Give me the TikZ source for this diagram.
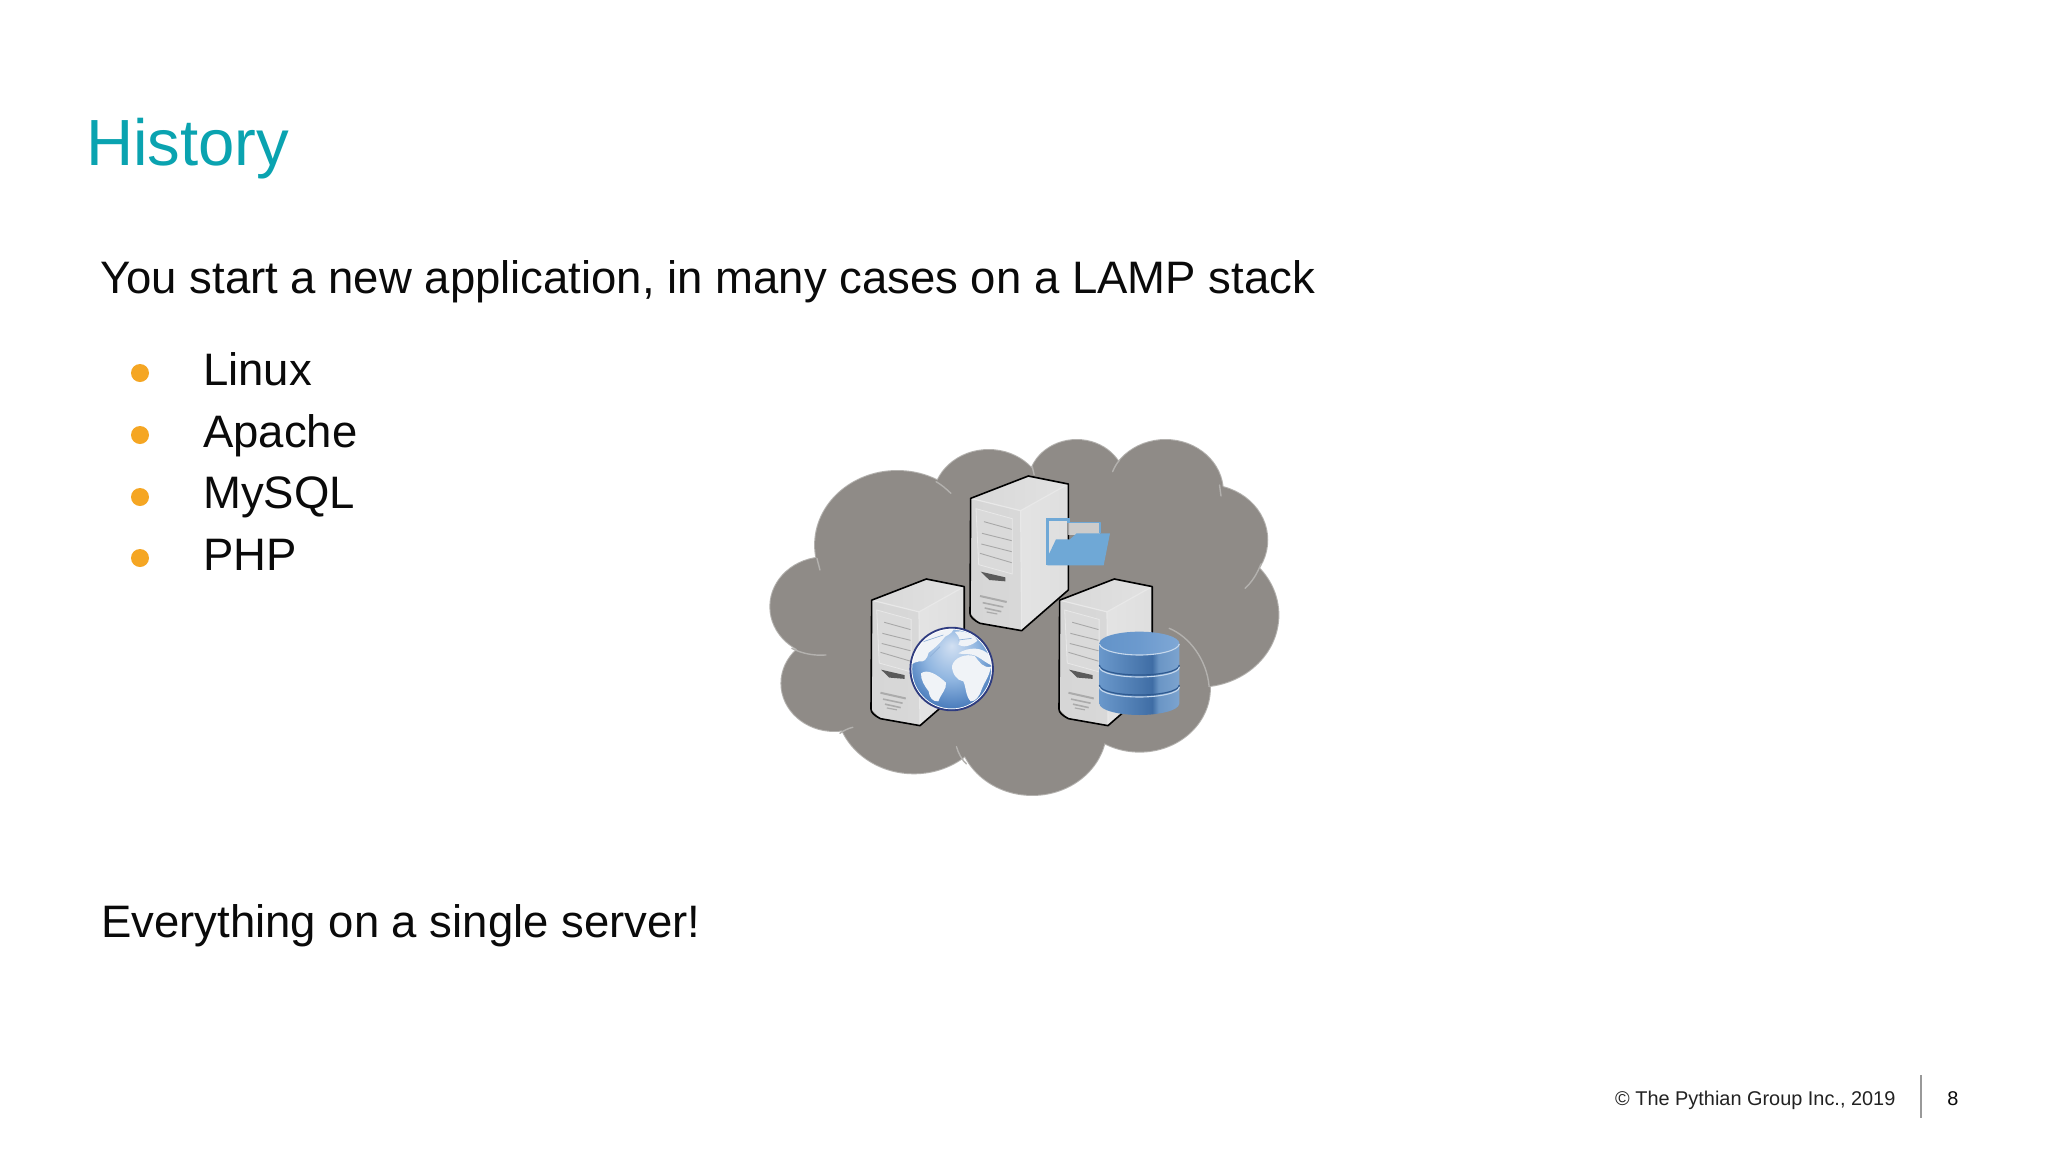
\documentclass[tikz,border=0pt]{standalone}
\usepackage{fontspec}
\setmainfont{Liberation Sans}
\definecolor{teal1}{HTML}{0AA3B0}
\definecolor{ink}{HTML}{0A0A0A}
\definecolor{footc}{HTML}{222222}
\definecolor{bull}{HTML}{F5A623}
\definecolor{cloudf}{HTML}{8F8B87}
\definecolor{cloudl}{HTML}{B3B1AE}
\definecolor{fblue}{HTML}{6FA8D6}
\definecolor{seam}{HTML}{C6D8EC}
\definecolor{dba}{HTML}{5F90C6}
\definecolor{dbb}{HTML}{6A98CB}
\definecolor{dbc}{HTML}{4A78AE}
\definecolor{dbd}{HTML}{3F6DA5}
\definecolor{dbe}{HTML}{6A95C5}
\definecolor{dbf}{HTML}{8AAFD8}
\definecolor{dbg}{HTML}{7AA3D0}
\definecolor{dbh}{HTML}{5A8DC4}
\definecolor{dbi}{HTML}{6C9ACE}
\definecolor{dbj}{HTML}{93B6DD}
\definecolor{dbk}{HTML}{2F5A90}
\definecolor{fta}{HTML}{D4D4D4}
\definecolor{ftb}{HTML}{E6E6E6}
\definecolor{ffa}{HTML}{D5D5D5}
\definecolor{ffb}{HTML}{D9D9D9}
\definecolor{rfa}{HTML}{E6E6E6}
\definecolor{rfb}{HTML}{DCDCDC}
\definecolor{pnl}{HTML}{DADADA}
\definecolor{pbd}{HTML}{E8E8E8}
\definecolor{pln}{HTML}{A8A8A8}
\definecolor{slot}{HTML}{5A5A5A}
\definecolor{vent}{HTML}{ABABAB}
\definecolor{gla}{HTML}{D2E0F2}
\definecolor{glb}{HTML}{8FB5E0}
\definecolor{glc}{HTML}{2F66AE}
\definecolor{gld}{HTML}{2F3C80}
\definecolor{landc}{HTML}{F0F3F7}
\definecolor{gline}{HTML}{8FB0D8}
\pgfdeclarehorizontalshading{dbside}{100bp}{color(0bp)=(dba);color(25bp)=(dbb);color(50bp)=(dbc);color(58bp)=(dbd);color(62bp)=(dbe);color(85bp)=(dbf);color(100bp)=(dbg)}
\pgfdeclarehorizontalshading{dbtop}{100bp}{color(0bp)=(dbh);color(50bp)=(dbi);color(100bp)=(dbj)}
\pgfdeclarehorizontalshading{ftop}{100bp}{color(0bp)=(fta);color(100bp)=(ftb)}
\pgfdeclarehorizontalshading{fface}{100bp}{color(0bp)=(ffa);color(100bp)=(ffb)}
\pgfdeclarehorizontalshading{rface}{100bp}{color(0bp)=(rfa);color(100bp)=(rfb)}
\pgfdeclareradialshading{glbs}{\pgfpoint{0bp}{14bp}}{color(0bp)=(gla);color(16bp)=(glb);color(34bp)=(glc);color(50bp)=(glc)}
\tikzset{
  title/.style={inner sep=0pt,anchor=base west,text=teal1,font=\fontsize{65.3}{70}\selectfont},
  body/.style={inner sep=0pt,anchor=base west,text=ink,font=\fontsize{45.5}{50}\selectfont},
  foot/.style={inner sep=0pt,anchor=base west,text=footc,font=\fontsize{19.9}{24}\selectfont},
  bulletdot/.style={fill=bull,draw=none},
  lobe/.style={draw=cloudl,line width=2pt,fill=cloudf},
  lobefill/.style={fill=cloudf,draw=none},
  crease/.style={draw=cloudl,line width=1.4pt,line cap=round},
  edge/.style={draw=black,line width=1.6pt,line join=round},
  pline/.style={draw=pln,line width=0.9pt},
  land/.style={fill=landc,draw=none},
  dbdark/.style={draw=dbk,line width=1.2pt},
  dbseam/.style={draw=seam,line width=1.1pt},
}
\newcommand{\srv}[3]{%
\begin{scope}[shift={(#1,#2)},scale=#3,shift={(-30,-18)}]
  \path[shading=ftop] (32,85) -- (205,18) -- (325,42) -- (182,122) -- cycle;
  \path[shading=fface] (32,85) -- (182,122) -- (185,482) -- (60,460) -- (30,430) -- cycle;
  \path[shading=rface] (182,122) -- (325,42) -- (325,360) -- (185,482) -- cycle;
  \draw[draw=pbd,line width=1.2pt] (32,85) -- (182,122) -- (325,42) (182,122) -- (185,482);
  \path[fill=pnl,draw=pbd,line width=.8pt] (48,116) -- (157,146) -- (157,312) -- (56,284) -- cycle;
  \draw[pline] (72,155) -- (155,178) (66,190) -- (155,212) (64,222) -- (155,245) (60,250) -- (155,278);
  \path[fill=slot] (62,305) -- (136,322) -- (136,334) -- (88,330) -- cycle;
  \draw[draw=vent,line width=2pt] (60,378) -- (140,396);
  \draw[draw=vent,line width=1.6pt] (68,398) -- (130,411) (74,414) -- (124,425);
  \draw[draw=vent,line width=1.2pt] (80,426) -- (112,432);
  \draw[edge] (32,85) -- (205,18) -- (325,42) -- (325,360) -- (185,482) -- (60,460) .. controls (40,450) and (30,440) .. (30,430) -- cycle;
\end{scope}}
\begin{document}
\begin{tikzpicture}[x=1pt,y=-1pt]
\useasboundingbox (0,0) rectangle (2048,1152);
\fill[white] (0,0) rectangle (2048,1152);

\node[title] (ttl) at (86,165) {History};
\node[body] (lead) at (100,293) {You start a new application, in many cases on a LAMP stack};
\fill[bulletdot] (140,373) circle (9) (140,435) circle (9) (140,497) circle (9) (140,558) circle (9);
\node[body] (li1) at (203,385) {Linux};
\node[body] (li2) at (203,447) {Apache};
\node[body] (li3) at (203,508) {MySQL};
\node[body] (li4) at (203,570) {PHP};
\node[body] (tail) at (101,937) {Everything on a single server!};

\node[foot] (copy) at (1615,1105) {© The Pythian Group Inc., 2019};
\draw[draw=white!60!black,line width=2.5pt] (1921,1075) -- (1921,1118);
\node[foot,anchor=base,text=ink] (pg) at (1953,1105) {8};

% cloud
\begin{scope}[shift={(740,420)},xscale=0.37,yscale=0.3333]
  \foreach \cx/\cy/\r in {425/375/222,672/240/150,910/190/130,1150/215/155,1260/360/165,1240/585/215,1080/805/190,790/925/200,470/850/210,255/790/143,230/560/148}
    \draw[lobe] (\cx,\cy) circle (\r);
  \foreach \cx/\cy/\r in {425/375/222,672/240/150,910/190/130,1150/215/155,1260/360/165,1240/585/215,1080/805/190,790/925/200,470/850/210,255/790/143,230/560/148}
    \fill[lobefill] (\cx,\cy) circle (\r);
  \fill[lobefill] (300,300) rectangle (1200,800);
  \fill[lobefill] (600,150) rectangle (1250,300);
  \draw[crease] (530,185) .. controls (545,195) and (558,207) .. (570,220);
  \draw[crease] (790,140) -- (795,165);
  \draw[crease] (1007,155) .. controls (1012,142) and (1018,130) .. (1026,120);
  \draw[crease] (1296,195) -- (1300,228);
  \draw[crease] (1408,432) .. controls (1398,460) and (1385,485) .. (1365,505);
  \draw[crease] (1160,625) .. controls (1215,650) and (1262,720) .. (1268,800);
  \draw[crease] (585,980) .. controls (590,1000) and (600,1020) .. (612,1032);
  \draw[crease] (270,940) .. controls (280,932) and (292,925) .. (305,922);
  \draw[crease] (140,685) .. controls (165,700) and (200,708) .. (232,705);
  \draw[crease] (208,415) -- (216,450);
\end{scope}

\srv{970}{476}{0.3333}
% folder
\begin{scope}[shift={(960,470)},scale=0.3333]
  \path[fill=pbd,opacity=.7] (325,158) -- (420,158) -- (420,195) -- (325,195) -- cycle;
  \draw[draw=fblue,line width=1.6pt,line join=round] (325,158) -- (420,158) -- (420,190);
  \draw[draw=fblue,line width=2.6pt] (262,285) -- (262,148) -- (325,148) -- (325,160);
  \fill[fblue] (262,286) -- (431,286) -- (450,190) -- (350,190) -- (330,208) -- (288,208) -- (268,250) -- (262,250) -- cycle;
\end{scope}
\srv{871}{579}{0.316}
\srv{1059}{579}{0.316}

% globe
\begin{scope}[shift={(890,620)},scale=0.3333]
  \begin{scope}
    \clip (185,147) circle (124);
    \path[shading=glbs] (60,20) rectangle (310,275);
    \path[land] (62,135) .. controls (62,80) and (110,30) .. (190,22) .. controls (195,32) and (178,44) .. (165,50) .. controls (150,70) and (130,88) .. (116,98) .. controls (112,118) and (100,128) .. (88,124) .. controls (78,124) and (70,130) .. (62,135) -- cycle;
    \path[land] (195,36) .. controls (215,30) and (250,40) .. (262,62) .. controls (245,78) and (218,84) .. (205,74) .. controls (215,60) and (205,48) .. (195,36) -- cycle;
    \path[land] (93,160) .. controls (112,146) and (140,162) .. (168,188) .. controls (170,208) and (155,218) .. (145,244) .. controls (128,246) and (118,232) .. (116,214) .. controls (104,198) and (92,180) .. (93,160) -- cycle;
    \path[land] (186,138) .. controls (192,112) and (228,100) .. (254,108) .. controls (268,126) and (280,146) .. (303,140) .. controls (298,170) and (282,188) .. (275,208) .. controls (268,230) and (256,245) .. (242,244) .. controls (226,228) and (228,198) .. (220,184) .. controls (202,182) and (186,162) .. (186,138) -- cycle;
    \path[land] (205,100) .. controls (235,80) and (280,80) .. (300,108) .. controls (308,122) and (310,130) .. (310,138) .. controls (292,132) and (280,120) .. (262,110) .. controls (240,98) and (220,105) .. (205,100) -- cycle;
    \draw[draw=gline,line width=.7pt] (100,65) -- (160,45) (120,110) -- (150,80) (205,60) -- (245,55);
  \end{scope}
  \draw[draw=white,line width=1pt] (185,147) circle (120);
  \draw[draw=gld,line width=1.8pt] (185,147) circle (124);
\end{scope}

% database
\begin{scope}[shift={(1090,620)},scale=0.3333]
  \path[shading=dbside] (28,70) -- (28,250) .. controls (28,272) and (90,285) .. (148,285) .. controls (206,285) and (268,272) .. (268,250) -- (268,70) -- cycle;
  \draw[dbdark] (28,135) .. controls (28,155) and (90,165) .. (148,165) .. controls (206,165) and (268,155) .. (268,135);
  \draw[dbseam] (28,141) .. controls (28,160) and (90,171) .. (148,171) .. controls (206,171) and (268,160) .. (268,141);
  \draw[dbdark] (28,195) .. controls (28,215) and (90,225) .. (148,225) .. controls (206,225) and (268,215) .. (268,195);
  \draw[dbseam] (28,201) .. controls (28,220) and (90,231) .. (148,231) .. controls (206,231) and (268,220) .. (268,201);
  \path[shading=dbtop] (148,70) ellipse (120 and 35);
  \draw[dbseam] (28,72) .. controls (32,92) and (90,105) .. (148,105) .. controls (206,105) and (264,92) .. (268,72);
\end{scope}
\end{tikzpicture}
\end{document}
